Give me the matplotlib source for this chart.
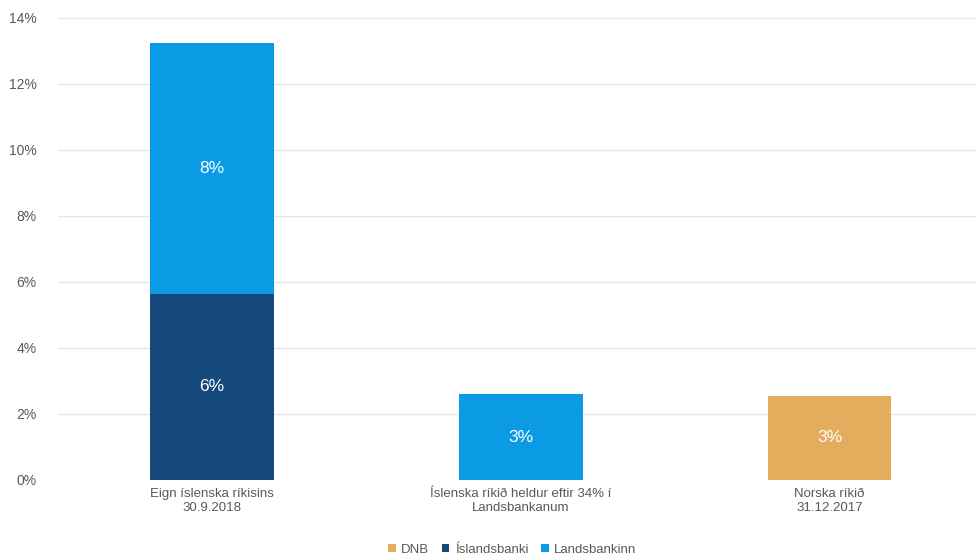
import numpy as np
import matplotlib
matplotlib.use("Agg")
import matplotlib.pyplot as plt
from matplotlib.ticker import FuncFormatter

plt.rcParams['font.family'] = ['Liberation Sans', 'DejaVu Sans']

# gögn lesin af myndinni
categories = ['Eign íslenska ríkisins\n30.9.2018',
              'Íslenska ríkið heldur eftir 34% í\nLandsbankanum',
              'Norska ríkið\n31.12.2017']
series_names = ['DNB', 'Íslandsbanki', 'Landsbankinn']
dnb = [0.0, 0.0, 2.55]
islandsbanki = [5.65, 0.0, 0.0]
landsbankinn = [7.6, 2.6, 0.0]
colors = ['#e4ad5e', '#174a7c', '#0b9be5']

fig = plt.figure(figsize=(9.76, 5.54), dpi=100)
ax = fig.add_axes([0.059, 0.1336, 0.941, 0.834])

x = np.arange(len(categories))
bottom = np.zeros(len(categories))
for name, vals, col in zip(series_names, [dnb, islandsbanki, landsbankinn], colors):
    vals = np.array(vals)
    ax.bar(x, vals, width=0.4, bottom=bottom, color=col, label=name, zorder=2)
    for xi, v, b in zip(x, vals, bottom):
        if v > 0:
            ax.text(xi, b + v / 2, f'{v:.0f}%', ha='center', va='center',
                    color='white', fontsize=12.5, zorder=3)
    bottom += vals

ax.set_ylim(0, 14)
ax.set_yticks(np.arange(0, 15, 2))
ax.yaxis.set_major_formatter(FuncFormatter(lambda v, p: f'{v:.0f}%'))
ax.set_xlim(-0.5, 2.474)
ax.set_xticks(x)
ax.set_xticklabels(categories, fontsize=9.5)
ax.grid(axis='y', color='#e6e6e6', linewidth=0.9, zorder=0)
ax.tick_params(axis='both', length=0, colors='#595959')
ax.tick_params(axis='y', pad=15, labelsize=10)
ax.tick_params(axis='x', pad=6)
for s in ax.spines.values():
    s.set_visible(False)

ax.legend(loc='lower center', bbox_to_anchor=(0.495, -0.19), ncol=3, frameon=False,
          fontsize=9.5, handlelength=0.55, handleheight=0.55, handletextpad=0.4,
          columnspacing=1.0, labelcolor='#595959')

fig.savefig('out.png', dpi=100, facecolor='white')
